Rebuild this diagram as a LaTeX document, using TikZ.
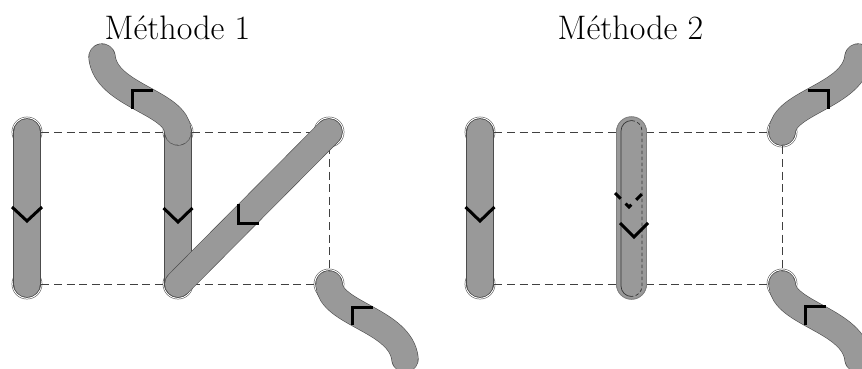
\documentclass[tikz,border=0pt]{standalone}
\begin{document}
\begin{tikzpicture}[x=1pt,y=-1pt,
  vertex/.style={circle,draw=black!75,line width=.5pt,double=white,double distance=1.2pt,fill=white,inner sep=0pt,minimum size=28.4pt},
  edgedash/.style={draw=black!75,line width=.9pt,dash pattern=on 8pt off 4.6pt},
  band/.style={draw=black!70,line width=.6pt,double=bandgray,double distance=26pt,line cap=round},
  tick/.style={draw=black,line width=3pt,line join=miter},
  title/.style={font=\fontsize{34}{40}\selectfont,anchor=base,inner sep=0pt},
]
\definecolor{bandgray}{HTML}{999999}
\clip (0,0) rectangle (862,368);
\node[title] (t1) at (177.5,39) {Méthode 1};
\node[title] (t2) at (630.5,39) {Méthode 2};
% vertices
\node[vertex] (a1) at (27,132) {};
\node[vertex] (a2) at (27,284) {};
\node[vertex] (b1) at (178,132) {};
\node[vertex] (b2) at (178,284) {};
\node[vertex] (c1) at (329,132) {};
\node[vertex] (c2) at (329,284) {};
\node[vertex] (d1) at (480,132) {};
\node[vertex] (d2) at (480,284) {};
\node[vertex] (e1) at (631.5,132) {};
\node[vertex] (e2) at (631.5,284) {};
\node[vertex] (f1) at (782,132) {};
\node[vertex] (f2) at (782,284) {};
\coordinate (u1) at (102,57);
\coordinate (v1) at (405,359);
\coordinate (u2) at (858,57);
\coordinate (v2) at (858,359);
% dashed edges
\draw[edgedash] (a1) -- (b1);
\draw[edgedash] (b1) -- (c1);
\draw[edgedash] (a2) -- (b2);
\draw[edgedash] (b2) -- (c2);
\draw[edgedash] (c1) -- (c2);
\draw[edgedash] (d1) -- (e1);
\draw[edgedash] (e1) -- (f1);
\draw[edgedash] (d2) -- (e2);
\draw[edgedash] (e2) -- (f2);
\draw[edgedash] (f1) -- (f2);
% bands, method 1
\draw[band] (a1.center) -- (a2.center);
\draw[band] (b1.center) -- (b2.center);
\draw[band] (b2.center) -- (c1.center);
\draw[band] (b1.center) .. controls (177,102) and (106,96) .. (u1);
\draw[band] (c2.center) .. controls (330,314) and (401,320) .. (v1);
% bands, method 2
\draw[band] (d1.center) -- (d2.center);
\draw[band] (f1.center) .. controls (783,102) and (854,96) .. (u2);
\draw[band] (f2.center) .. controls (783,314) and (854,320) .. (v2);
\draw[draw=black!50,line width=1pt,double=bandgray,double distance=29.5pt,line cap=round] (e1.center) -- (e2.center);
\draw[black!80,line width=.7pt] (631.5,296.5) arc[start angle=90,end angle=180,radius=10.5] -- (621,131) arc[start angle=180,end angle=270,radius=10.5];
\draw[black!80,line width=.7pt,dash pattern=on 3.5pt off 2.5pt] (631.5,120.5) arc[start angle=-90,end angle=0,radius=10.5] -- (642,286) arc[start angle=0,end angle=90,radius=10.5];
% ticks
\draw[tick] (12,207) -- (27,221) -- (42,207);
\draw[tick] (163.5,208) -- (178,222) -- (192.5,208);
\draw[tick] (465.5,207) -- (480,221) -- (494.5,207);
\draw[tick] (620,223) -- (634,237) -- (648,223);
\draw[tick,dash pattern=on 8pt off 7pt] (615,193) -- (629,207) -- (643,193);
\draw[tick] (132,109) -- (132,90) -- (152.5,90);
\draw[tick] (238,204) -- (238,223) -- (258.5,223);
\draw[tick] (352,325) -- (352,307) -- (372.5,307);
\draw[tick] (828,109) -- (828,90) -- (808,90);
\draw[tick] (805,325) -- (805,306) -- (825.5,306);
\end{tikzpicture}
\end{document}
